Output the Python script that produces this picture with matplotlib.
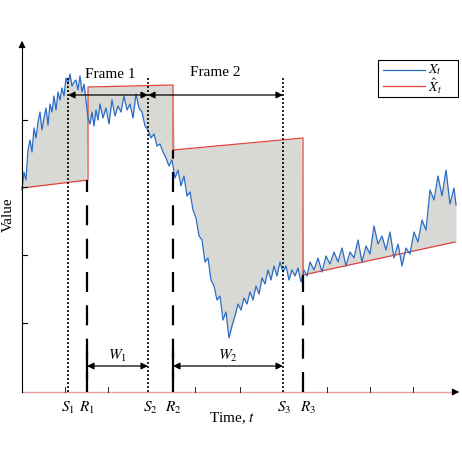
import matplotlib
matplotlib.use("Agg")
import matplotlib.pyplot as plt
import numpy as np

plt.rcParams['font.family'] = ['Liberation Serif', 'DejaVu Serif']
plt.rcParams['mathtext.fontset'] = 'stix'

# coordinates in a chart frame: x = time position, y = value
blue_x = [22,24,26,28,30,32,34,36,38,40,42,44,46,48,50,52,54,56,58,60,62,64,66,68,70,72,74,76,78,80,82,84,86,88,90,92,94,96,98,100,103,106,109,112,115,118,121,124,127,130,133,136,139,142,145,148,151,154,157,160,163,166,169,172,175,178,181,184,187,190,193,196,199,202,205,208,211,214,217,220,223,226,229,232,235,238,241,244,247,250,253,256,259,262,265,268,271,274,277,280,283,286,289,292,295,298,301,304,307,310,314,318,322,326,330,334,338,342,346,350,354,358,362,366,370,374,378,382,386,390,394,398,402,406,410,414,418,422,426,430,434,438,442,446,450,454,456]
blue_py = [190,172,180,150,140,152,128,138,122,112,130,118,108,125,104,112,96,110,92,100,88,96,78,84,74,86,82,80,90,76,92,84,100,118,124,112,126,110,120,104,118,108,124,100,116,106,112,96,110,104,118,94,108,112,126,130,138,134,146,144,152,158,166,160,178,170,186,176,196,192,210,218,236,240,262,258,280,286,300,296,320,312,338,326,316,304,310,298,304,292,300,286,294,278,284,270,280,266,276,262,272,266,280,270,276,268,282,270,276,262,270,258,272,256,264,252,262,248,266,252,258,240,262,246,254,226,244,236,250,232,258,244,266,248,254,232,242,220,230,190,200,176,196,170,204,188,205]
red_x = [22,88,88,173,173,303,303,455]
red_py = [188,180,87,85,150,138,275,242]
S_x = [68,148,283]
R_x = [87,173,303]
R_top = [180,150,275]
ytick_py = [120,187,255,323]
xtick_px = [65,108,195,240,327,370,413]

H = 462
fig = plt.figure(figsize=(4.62,4.62), dpi=100)
ax = fig.add_axes([0,0,1,1])
ax.set_xlim(0,462); ax.set_ylim(0,462); ax.axis('off')
Y = lambda p: H-np.asarray(p, dtype=float)

bx = np.array(blue_x, float); by = Y(blue_py)
ry = np.interp(bx, [22,88-1e-6,88,173-1e-6,173,303-1e-6,303,455],
               Y([188,180,87,85,150,138,275,242]))
ax.fill_between(bx, by, ry, color='#d8d9d5', lw=0)
ax.plot(red_x, Y(red_py), color='#e0443c', lw=0.9)
ax.plot(bx, by, color='#2b6cc4', lw=0.9)

base = H-392
ax.plot([22,455],[base,base], color='#e8a0a0', lw=1.0)
ax.plot([22,22],[base,Y(42)], color='k', lw=0.8)
ax.annotate('', xy=(22,Y(38)), xytext=(22,Y(50)), arrowprops=dict(arrowstyle='-|>', color='k', lw=0.8))
ax.annotate('', xy=(462,base), xytext=(450,base), arrowprops=dict(arrowstyle='-|>', color='k', lw=0.8))
for p in ytick_py:
    ax.plot([22,27],[Y(p),Y(p)], color='k', lw=0.8)
for p in xtick_px:
    ax.plot([p,p],[base,base+5], color='k', lw=0.6)

for s in S_x:
    ax.plot([s,s],[base,Y(78)], color='k', lw=1.2, ls=(0,(1.2,1.2)))
for r,t in zip(R_x,R_top):
    ax.plot([r,r],[base,Y(t)], color='k', lw=1.6, ls=(0,(9,6)))

def arr(x0,x1,py):
    ax.annotate('', xy=(x0,Y(py)), xytext=(x1,Y(py)), arrowprops=dict(arrowstyle='<|-|>', color='k', lw=0.9, shrinkA=0, shrinkB=0, mutation_scale=10))
arr(68,148,95); arr(148,283,95); arr(87,148,366); arr(173,283,366)
ax.plot([87,87],[Y(352),Y(378)], color='k', lw=1.6)
ax.plot([173,173],[Y(352),Y(378)], color='k', lw=1.6)
ax.text(110,Y(75),'Frame 1', ha='center', va='center', fontsize=11)
ax.text(215,Y(73),'Frame 2', ha='center', va='center', fontsize=11)
ax.text(117,Y(356),'$W_1$', ha='center', va='center', fontsize=11)
ax.text(228,Y(356),'$W_2$', ha='center', va='center', fontsize=11)
for lab,x in [('$S_1$',68),('$R_1$',87),('$S_2$',150),('$R_2$',173),('$S_3$',284),('$R_3$',308)]:
    ax.text(x,Y(408),lab, ha='center', va='center', fontsize=11)
ax.text(232,Y(418),'Time, $t$', ha='center', va='center', fontsize=11)
ax.text(8,Y(215),'Value', ha='center', va='center', rotation=90, fontsize=11)

ax.add_patch(plt.Rectangle((378,Y(97)),80,37, fill=False, ec='k', lw=0.8))
ax.plot([383,425],[Y(70),Y(70)], color='#2b6cc4', lw=0.9)
ax.plot([383,425],[Y(86),Y(86)], color='#e0443c', lw=0.9)
ax.text(428,Y(70),'$X_t$', va='center', fontsize=10)
ax.text(428,Y(86),r'$\hat{X}_t$', va='center', fontsize=10)
fig.savefig('out.png', dpi=100)
